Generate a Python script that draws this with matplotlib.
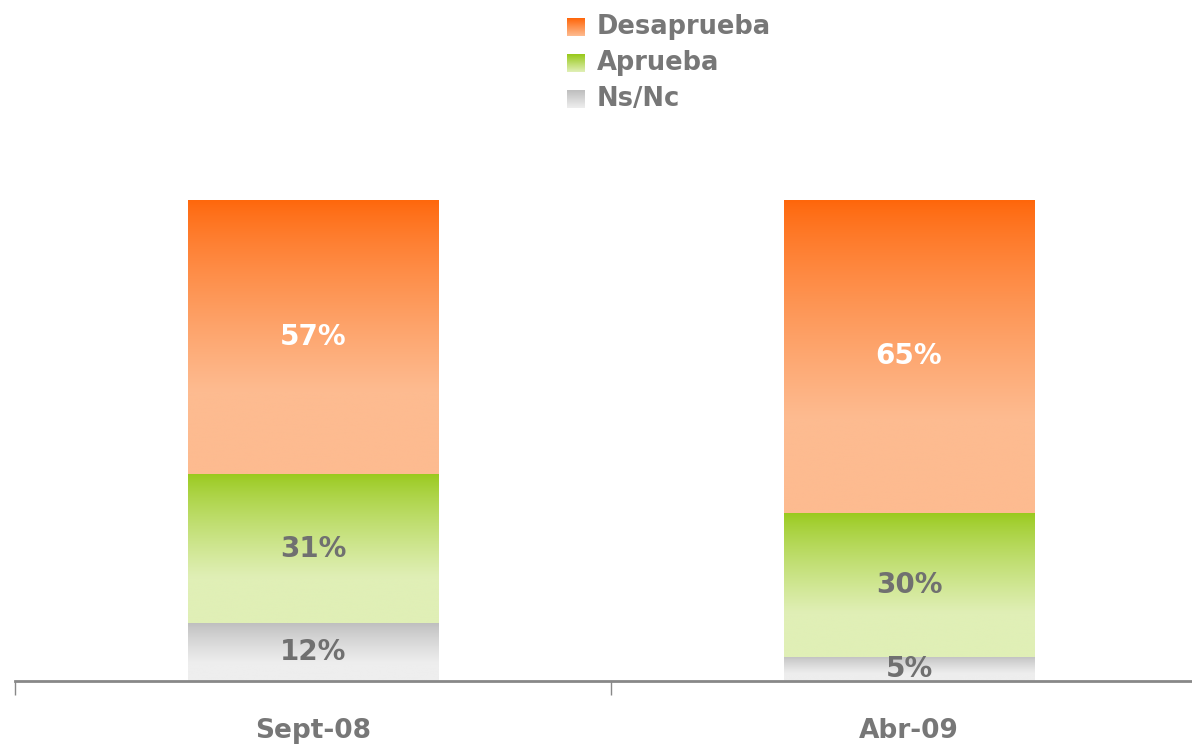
import numpy as np
import matplotlib.pyplot as plt
from matplotlib.colors import LinearSegmentedColormap

# Data
periods = ['Sept-08', 'Abr-09']
ns_nc = [12, 5]
aprueba = [31, 30]
desaprueba = [57, 65]

series = [('Ns/Nc', ns_nc, '#BEBEBE', '#EEEEEE', '#707070'),
          ('Aprueba', aprueba, '#98C91A', '#E0EFB6', '#707070'),
          ('Desaprueba', desaprueba, '#FF660A', '#FDBB90', '#FFFFFF')]

W, H = 1192, 747
fig = plt.figure(figsize=(W / 100, H / 100), dpi=100)
ax = fig.add_axes([15 / W, (H - 681) / H, (W - 15) / W, 481 / H])

bar_w = 0.42
grey = '#777777'


def gradient_rect(ax, x0, x1, y0, y1, top, bottom):
    cmap = LinearSegmentedColormap.from_list('g', [top, bottom])
    grad = np.linspace(0, 1, 256) ** 0.8
    grad = np.clip(grad / 0.75, 0, 1).reshape(-1, 1)
    ax.imshow(grad, cmap=cmap, extent=[x0, x1, y0, y1], origin='upper',
              aspect='auto', interpolation='bicubic', zorder=2)


x = np.arange(len(periods))
bottoms = np.zeros(len(periods))
for name, vals, top, bot, tcol in series:
    for i, v in enumerate(vals):
        y0 = bottoms[i]
        gradient_rect(ax, x[i] - bar_w / 2, x[i] + bar_w / 2, y0, y0 + v, top, bot)
        ax.text(x[i], y0 + v / 2, f'{v}%', ha='center', va='center',
                fontsize=20, fontweight='bold', color=tcol, zorder=3)
    bottoms += np.array(vals)

for s in ['top', 'right', 'left']:
    ax.spines[s].set_visible(False)
ax.spines['bottom'].set_color('#888888')
ax.spines['bottom'].set_linewidth(2)
ax.spines['bottom'].set_zorder(4)
ax.set_yticks([])
ax.set_xticks([-0.5, 0.5, 1.5])
ax.set_xticklabels([])
ax.tick_params(axis='x', which='major', length=10, width=1, color='#888888')
ax.set_xticks(x, minor=True)
ax.set_xticklabels(periods, minor=True, fontsize=19, fontweight='bold', color=grey)
ax.tick_params(axis='x', which='minor', length=0, pad=27)

ax.set_xlim(-0.5, -0.5 + (W - 15) / 596)
ax.set_ylim(0, 100)

# legend
legend_items = [('Desaprueba', '#FF660A', '#FDBB90'),
                ('Aprueba', '#98C91A', '#E0EFB6'),
                ('Ns/Nc', '#BEBEBE', '#EEEEEE')]
for k, (label, top, bot) in enumerate(legend_items):
    yc = 27 + 36 * k
    sq = fig.add_axes([567 / W, (H - yc - 9) / H, 18 / W, 18 / H])
    sq.imshow(np.linspace(0, 1, 64).reshape(-1, 1),
              cmap=LinearSegmentedColormap.from_list('l', [top, bot]),
              aspect='auto', extent=[0, 1, 0, 1])
    sq.axis('off')
    fig.text(597 / W, (H - yc) / H, label, ha='left', va='center',
             fontsize=18.5, fontweight='bold', color=grey)

fig.savefig('out.png', dpi=100)
